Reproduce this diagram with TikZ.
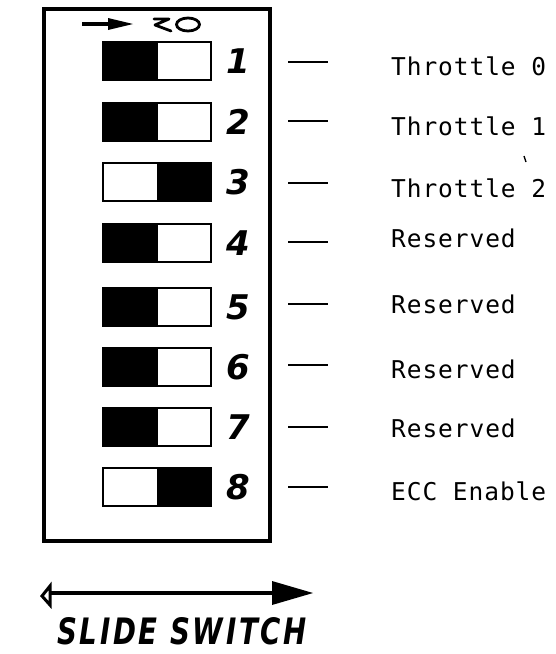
\documentclass[tikz,border=0pt]{standalone}
\usepackage{fontspec}
\newfontfamily\labelfont[LetterSpace=3.8]{DejaVu Sans Mono}
\newfontfamily\handfont{DejaVu Sans}
\newfontfamily\capfont[LetterSpace=10]{DejaVu Sans}
\begin{document}
\begin{tikzpicture}[x=1pt,y=-1pt,
  frame/.style={draw,line width=3.2pt,inner sep=0pt,outer sep=0pt},
  swbox/.style={draw,line width=2.6pt,inner sep=0pt,outer sep=0pt,minimum width=108pt,minimum height=38pt},
  numlbl/.style={inner sep=0pt,font=\handfont\bfseries\itshape\fontsize{34}{36}\selectfont},
  lbl/.style={inner sep=0pt,anchor=base west,font=\labelfont\fontsize{24.5}{28}\selectfont},
  dashline/.style={line width=2.8pt},
  heavy/.style={line width=3.2pt}
]
\useasboundingbox (0,0) rectangle (555,654);
% outer frame
\node[frame,minimum width=226pt,minimum height=532pt] (box) at (157,275) {};
% top marker
\coordinate (ma) at (82,24);
\coordinate (mb) at (112,24);
\draw[heavy] (ma) -- (mb);
\fill (108,18) -- (133,24) -- (108,30) -- cycle;
\draw[line width=2.8pt,line join=round,line cap=round] (154,19) -- (169,19) -- (155,25) -- (171,31);
\draw[line width=2.8pt] (188,24.5) ellipse [x radius=11.5pt,y radius=6.5pt];
% switches
\foreach \i/\c/\a/\b in {1/61/103/158,2/122/103/158,3/182/157/211,4/243/103/158,5/307/103/158,6/367/103/158,7/427/103/158,8/487/157/211}{
  \fill (\a,\c-19) rectangle (\b,\c+19);
  \node[swbox] (sw\i) at (157,\c) {};
  \node[numlbl] (n\i) at (238,\c) {\i};
}
% dashes
\foreach \i/\d in {1/62,2/121,3/183,4/242,5/304,6/365,7/427,8/487}{
  \coordinate (da\i) at (288,\d);
  \coordinate (db\i) at (328,\d);
  \draw[dashline] (da\i) -- (db\i);
}
% labels
\node[lbl] (t1) at (391,75) {Throttle 0};
\node[lbl] (t2) at (391,135) {Throttle 1};
\node[lbl] (t3) at (391,197) {Throttle 2};
\node[lbl] (t4) at (391,247) {Reserved};
\node[lbl] (t5) at (391,313) {Reserved};
\node[lbl] (t6) at (391,378) {Reserved};
\node[lbl] (t7) at (391,437) {Reserved};
\node[lbl] (t8) at (391,500) {ECC Enable};
\draw[line width=1.4pt] (524,156) -- (526,162);
% slide switch arrow
\coordinate (la) at (50,593);
\coordinate (lb) at (275,593);
\draw[heavy] (la) -- (lb);
\fill (272,581) -- (313,593) -- (272,605) -- cycle;
\draw[line width=3pt,fill=white] (42,596) -- (50,586) -- (50,605) -- cycle;
\node[inner sep=0pt] (cap) at (182,631.5) {\resizebox{250pt}{27pt}{\capfont\itshape\bfseries SLIDE SWITCH}};
\end{tikzpicture}
\end{document}
